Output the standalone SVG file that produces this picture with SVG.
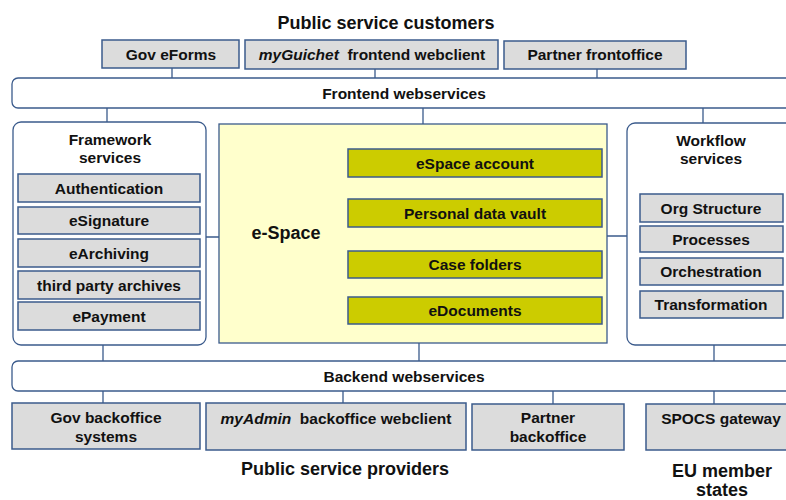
<svg xmlns="http://www.w3.org/2000/svg" width="786" height="500" viewBox="0 0 786 500">
<style>
text{font-family:"Liberation Sans",Arial,sans-serif;font-weight:bold;fill:#111;text-anchor:middle;font-size:15.5px}
.t{font-size:18px}
.g{fill:#dcdcdc;stroke:#3b5b8c;stroke-width:1.5}
.o{fill:#cccc00;stroke:#3b5b8c;stroke-width:1.5}
.w{fill:#fff;stroke:#3b5b8c;stroke-width:1.3}
.c{stroke:#3b5b8c;stroke-width:1.3;fill:none}
</style>
<rect width="786" height="500" fill="#fff"/>
<g id="connectors">
<path class="c" d="M172 68V78M375 69V78M597 69V78M107 108V122M423 108V124M703 108V123M206 237H219M607 236H627M103 345V361M419 343V361M714 345V361M103 391V403M343 391V403M553 391V404M714 391V404"/>
</g>
<text class="t" x="386" y="29">Public service customers</text>
<g id="gov-eforms"><rect class="g" x="102" y="40" width="137" height="28"/><text x="171" y="60">Gov eForms</text></g>
<g id="myguichet"><rect class="g" x="245" y="40" width="253" height="29"/><text x="372" y="60"><tspan font-style="italic">myGuichet</tspan>&#160; frontend webclient</text></g>
<g id="partner-frontoffice"><rect class="g" x="504" y="41" width="182" height="28"/><text x="595" y="60">Partner frontoffice</text></g>
<g id="frontend-webservices"><rect class="w" x="12" y="78" width="800" height="30" rx="6"/><text x="404" y="99">Frontend webservices</text></g>
<g id="framework-services">
<rect class="w" x="13" y="122" width="193" height="223" rx="8"/>
<text x="110" y="145">Framework</text><text x="110" y="163">services</text>
<rect class="g" x="18" y="174" width="182" height="28"/><text x="109" y="194">Authentication</text>
<rect class="g" x="18" y="207" width="182" height="27"/><text x="109" y="226">eSignature</text>
<rect class="g" x="18" y="239" width="182" height="28"/><text x="109" y="259">eArchiving</text>
<rect class="g" x="18" y="271" width="182" height="28"/><text x="109" y="291">third party archives</text>
<rect class="g" x="18" y="302" width="182" height="28"/><text x="109" y="322">ePayment</text>
</g>
<g id="e-space">
<rect x="219" y="124" width="388" height="219" fill="#ffffcc" stroke="#3b5b8c" stroke-width="1.3"/>
<text class="t" x="286" y="239">e-Space</text>
<rect class="o" x="348" y="149" width="254" height="28"/><text x="475" y="169">eSpace account</text>
<rect class="o" x="348" y="199" width="254" height="28"/><text x="475" y="219">Personal data vault</text>
<rect class="o" x="348" y="251" width="254" height="27"/><text x="475" y="270">Case folders</text>
<rect class="o" x="348" y="297" width="254" height="27"/><text x="475" y="316">eDocuments</text>
</g>
<g id="workflow-services">
<rect class="w" x="627" y="123" width="200" height="222" rx="8"/>
<text x="711" y="146">Workflow</text><text x="711" y="164">services</text>
<rect class="g" x="640" y="194" width="143" height="28"/><text x="711" y="214">Org Structure</text>
<rect class="g" x="640" y="226" width="143" height="26"/><text x="711" y="245">Processes</text>
<rect class="g" x="640" y="258" width="143" height="27"/><text x="711" y="277">Orchestration</text>
<rect class="g" x="640" y="291" width="143" height="27"/><text x="711" y="310">Transformation</text>
</g>
<g id="backend-webservices"><rect class="w" x="12" y="361" width="800" height="30" rx="6"/><text x="404" y="382">Backend webservices</text></g>
<g id="gov-backoffice"><rect class="g" x="12" y="403" width="188" height="46"/><text x="106" y="423">Gov backoffice</text><text x="106" y="442">systems</text></g>
<g id="myadmin"><rect class="g" x="206" y="403" width="260" height="47"/><text x="336" y="424"><tspan font-style="italic">myAdmin</tspan>&#160; backoffice webclient</text></g>
<g id="partner-backoffice"><rect class="g" x="472" y="404" width="152" height="46"/><text x="548" y="423">Partner</text><text x="548" y="442">backoffice</text></g>
<g id="spocs-gateway"><rect class="g" x="646" y="404" width="160" height="46"/><text x="721" y="424">SPOCS gateway</text></g>
<text class="t" x="345" y="475">Public service providers</text>
<text class="t" x="722" y="477">EU member</text><text class="t" x="722" y="496">states</text>
</svg>
